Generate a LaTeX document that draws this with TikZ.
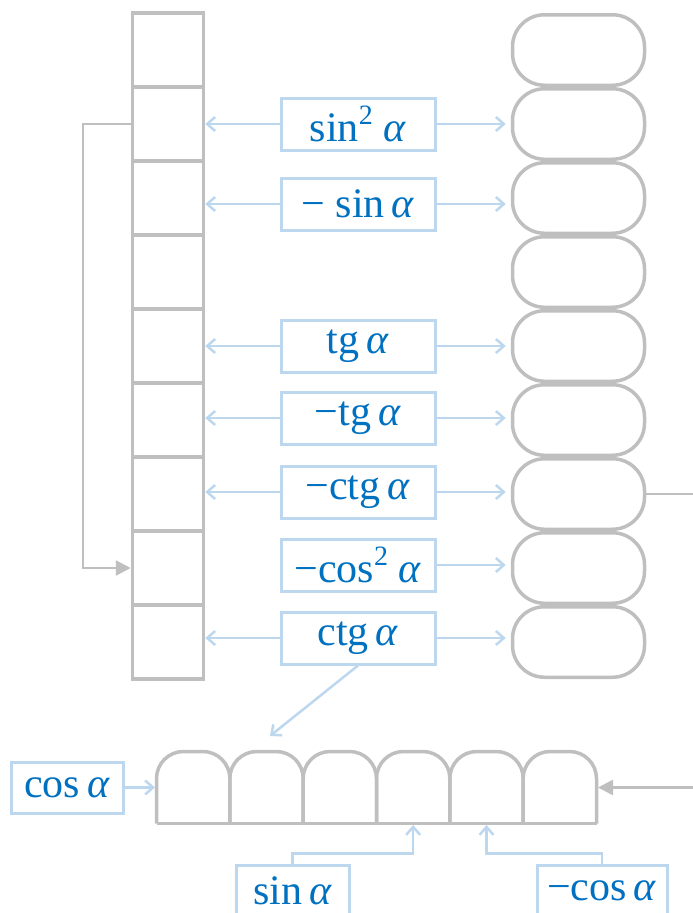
\documentclass[tikz,border=0pt]{standalone}
\usepackage{fontspec}
\setmainfont{Liberation Serif}
\usetikzlibrary{arrows.meta}
\definecolor{cellgray}{HTML}{BFBFBF}
\definecolor{labelline}{HTML}{BDD7EE}
\definecolor{labeltext}{HTML}{0070C0}
\newcommand{\al}{\textit{α}}
\newcommand{\sq}{\raisebox{0.4em}{\fontsize{28}{30}\selectfont 2}}

\begin{document}
\begin{tikzpicture}[x=1pt,y=-1pt,
  cell/.style={draw=cellgray,line width=3.5pt,minimum width=71pt,minimum height=74pt,inner sep=0pt},
  pill/.style={draw=cellgray,line width=3.5pt,minimum width=132pt,minimum height=70.5pt,rounded corners=32pt,inner sep=0pt},
  slot/.style={minimum width=73.33pt,minimum height=72pt,inner sep=0pt,outer sep=0pt},
  slotline/.style={draw=cellgray,line width=3.5pt,rounded corners=27pt},
  lbl/.style={draw=labelline,line width=3pt,text=labeltext,minimum width=154pt,minimum height=52pt,inner sep=0pt,font=\fontsize{42}{48}\selectfont},
  feed/.style={draw=labelline,line width=2.5pt,-{Straight Barb[length=8pt,width=14pt]}},
  link/.style={draw=cellgray,line width=2.5pt,-{Triangle[length=15pt,width=15pt]}},
  linkline/.style={draw=cellgray,line width=2.5pt}]
\useasboundingbox (0,0) rectangle (693,913);
\clip (0,0) rectangle (693,913);

% left column of square cells and right column of rounded cells
\foreach \i in {1,...,9} {
  \node[cell] (L\i) at (168,{50+74*(\i-1)}) {};
  \node[pill] (R\i) at (578.5,{50+74*(\i-1)}) {};
}

% value labels between the columns
\node[lbl] (S2) at (358,124) {sin\sq\ \al};
\node[lbl] (S3) at (358,204) {−\ sin\,\al};
\node[lbl] (S5) at (358,346) {tg\,\al};
\node[lbl] (S6) at (358,418) {−tg\,\al};
\node[lbl] (S7) at (358,492) {−ctg\,\al};
\node[lbl] (S8) at (358,565) {−cos\sq\ \al};
\node[lbl] (S9) at (358,638) {ctg\,\al};

\foreach \i in {2,3,5,6,7,9} {
  \draw[feed] (S\i.west) -- (S\i.west -| L\i.east);
}
\foreach \i in {2,3,5,6,7,8,9} {
  \draw[feed] (S\i.east) -- ([xshift=-5pt]S\i.east -| R\i.west);
}

% bottom row of arched cells
\foreach \i in {1,...,6} {
  \node[slot] (B\i) at ({156.5+73.333*(\i-0.5)},787.5) {};
  \draw[slotline] (B\i.south west) -- (B\i.north west) -- (B\i.north east) -- (B\i.south east);
}
\draw[cellgray,line width=3.5pt] (B1.south west) -- (B6.south east);

% labels around the bottom row
\node[lbl,minimum width=112pt,minimum height=51pt] (C1) at (67,787.5) {cos\,\al};
\node[lbl,minimum width=113pt] (C2) at (292.5,891) {sin\,\al};
\node[lbl,minimum width=130pt] (C3) at (602,891) {−cos\,\al};

\draw[feed,shorten >=1.5pt] (C1.east) -- (B1.west);
\draw[feed,shorten >=1.5pt] (C2.north) -- ++(0,-10) -| (B4.south);
\draw[feed,shorten >=1.5pt] (C3.north) -- ++(0,-10) -| (B5.south);

\coordinate (drop) at (270,736);
\draw[feed] (S9.south -| 358,0) -- (drop);

% grey links
\draw[link] (L2.west) -- ++(-48,0) |- (L8.west);
\coordinate (exitR) at (700,494);
\coordinate (enterB) at (700,787.5);
\draw[linkline] (R7.east) -- (exitR);
\draw[link,shorten >=1.5pt] (enterB) -- (B6.east);
\end{tikzpicture}
\end{document}
